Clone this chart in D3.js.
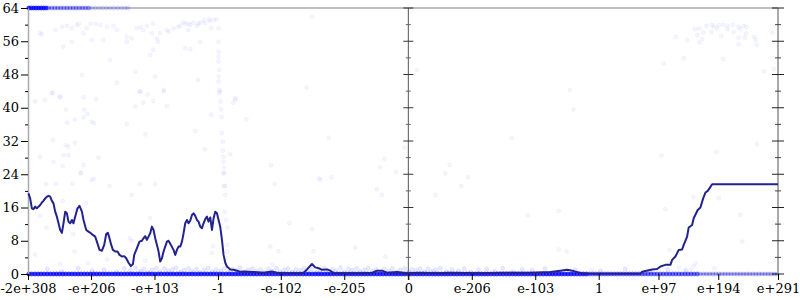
<!DOCTYPE html>
<html><head><meta charset="utf-8">
<script src="https://cdn.jsdelivr.net/npm/d3@7"></script>
<style>body{margin:0;background:#fff}svg{display:block}</style>
</head><body>
<svg id="c" width="800" height="300"></svg>
<script>
// x positions are in "decades" along the ordered-double axis (0 = the value 0)
const xTickVals = [-617.3, -515, -412, -309, -207, -104, 0, 103, 206, 309, 406, 503, 600];
const xTickLabels = ["-2e+308","-e+206","-e+103","-1","-e-102","-e-205","0","e-206","e-103","1","e+97","e+194","e+291"];
const yMajor = [0,8,16,24,32,40,48,56,64];
const yMinor = [4,12,20,28,36,44,52,60];

// average error line
const lineU = [-616.5,-613.8,-611.0,-608.4,-605.6,-602.9,-600.3,-597.5,-594.8,-592.2,-589.4,-586.6,-584.0,-581.3,-578.5,-575.9,-573.2,-570.4,-567.8,-565.0,-562.3,-559.7,-556.9,-554.2,-551.6,-548.8,-546.1,-543.5,-540.7,-537.0,-533.7,-529.8,-527.2,-522.8,-519.1,-515.2,-512.0,-508.2,-505.5,-501.2,-497.3,-493.6,-490.4,-487.6,-485.0,-482.2,-479.5,-475.7,-472.0,-468.8,-464.9,-461.1,-457.9,-454.1,-450.3,-447.0,-444.9,-440.5,-436.3,-432.4,-429.8,-427.0,-424.3,-421.7,-418.9,-416.2,-413.5,-410.8,-408.0,-405.4,-402.7,-399.9,-397.3,-394.6,-391.8,-389.2,-385.3,-381.1,-378.3,-375.6,-373.0,-370.2,-367.4,-364.8,-362.1,-359.3,-356.7,-354.0,-351.2,-348.6,-345.8,-343.1,-340.5,-337.7,-335.0,-332.4,-329.6,-326.9,-324.3,-321.5,-318.7,-316.1,-313.4,-310.6,-308.0,-305.3,-302.5,-299.9,-297.1,-294.4,-289.0,-283.7,-278.1,-272.8,-267.4,-259.3,-251.2,-234.9,-221.3,-213.2,-202.5,-175.4,-170.0,-164.5,-156.4,-151.0,-145.6,-140.1,-132.0,-126.6,-121.3,-77.9,-58.5,-50.8,-42.7,-34.6,-18.3,-2.1,19.5,46.6,68.2,116.9,149.4,198.1,230.6,246.8,257.7,268.4,284.6,311.7,344.2,376.7,379.5,395.7,403.8,409.2,417.3,425.4,428.2,433.5,438.9,444.4,447.0,452.5,455.1,460.6,463.2,469.7,474.1,478.5,482.2,486.0,493.1,600];
const lineV = [19.4,18.2,15.8,15.6,16.2,15.8,16.2,16.6,17.2,17.6,18.2,18.6,18.8,18.6,17.6,17.0,15.0,13.8,12.2,10.6,9.9,12.2,15.0,14.6,12.6,12.2,13.0,12.2,13.8,15.8,16.4,15.0,13.0,10.6,10.2,9.8,9.4,9.0,7.8,5.8,5.6,7.0,9.6,9.9,8.6,7.0,5.8,5.4,5.4,4.6,4.2,4.3,3.8,2.7,1.9,2.4,4.6,6.2,7.8,8.0,8.6,9.1,8.2,9.0,9.8,11.4,10.6,8.6,7.0,5.4,3.0,3.8,5.4,6.6,7.8,8.0,7.0,5.8,4.6,5.8,6.6,6.6,7.8,9.8,12.2,13.0,12.2,12.8,14.2,14.6,14.0,13.0,12.6,11.4,11.0,12.2,13.2,13.8,12.6,13.6,10.6,13.4,15.0,14.6,13.0,11.4,8.2,4.6,2.7,1.8,1.1,1.0,0.8,0.55,0.6,0.55,0.5,0.3,0.6,0.3,0.2,0.2,0.3,1.1,2.4,1.6,1.4,1.0,1.1,0.8,0.2,0.2,0.3,0.8,0.8,0.3,0.5,0.2,0.3,0.2,0.3,0.2,0.3,0.3,0.5,0.8,1.0,0.7,0.05,0.05,0.05,0.05,0.55,1.1,1.2,1.8,2.2,2.2,3.4,4.2,5.8,5.9,7.0,9.0,11.2,11.8,13.4,15.4,16.0,18.2,19.6,20.0,21.6,21.6];

// individual sampled points
const scatterU = [-598,-595,-573,-562,-554,-546,-538,-535,-527,-522,-516,-508,-500,-489,-479,-473,-457,-457,-449,-441,-435,-430,-424,-416,-414,-408,-403,-392,-389,-381,-370,-362,-354,-349,-343,-338,-332,-324,-316,-311,-308,-330,-322,-341,-357,-374,-365,-320,-357,
 -560,-546,-514,-495,-484,-419,-414,-406,-362,-354,-338,-443,-411,-473,-530,-579,-565,-435,-397,-341,
 -308,-308,-308,-308,-307,-308,-308,-307,-307,-281,-156,14,-165,
 434,452,465,472,469,479,477,472,484,493,496,501,504,511,518,518,527,528,536,539,544,549,548,546,536,536,561,564,565,591,508,492,414,447,511,577,593,
 -606,-590,-577,-566,-556,-554,-541,-527,-526,-527,-521,-514,-510,-507,-457,-443,-436,-430,-427,-423,-414,-397,-392,-346,-330,-320,-284,-281,-263,-289,
 -305,-305,-304,-303,-303,-301,-301,-300,-300,-299,-299,-299,
 -577,-556,-552,-541,-598,-576,-560,-552,-561,-527,-503,-531,-588,-572,-545,-514,-510,-485,-436,-411,
 -532,-449,-561,-523,-598,-541,-587,-544,-452,-606,-542,-565,-520,-489,
 -300,-298,-297,-298,-296,-294,-294,-294,-297,-317,-319,-427,-419,-449,
 -129,-223,-217,-145,-125,-39,-46,-20,-6,60,67,97,86,168,-51,-143,-193,-156,-224,-211,-154,-86,-43,-37,44,194,-221,
 244,244,257,417,463,504,539,542,599,497,463,439,458,298,262,268,411,500,566,424,466];
const scatterV = [57.9,57.7,58.7,59.5,59.7,59.1,59.9,60.2,57.9,59.1,60.2,60.2,59.9,59.5,59.7,58.7,57.1,55.9,56.7,59.1,59.4,58.7,59.7,57.9,60.2,56.7,57.9,58.7,58.3,59.1,59.7,60.2,59.9,60.5,59.7,60.5,61.1,61.3,61.1,61.3,59.1,60.4,60.9,60.2,60.2,59.4,60.6,59.2,58.7,
 54.7,55.9,56.3,56.3,51.5,52.7,53.9,55.9,54.3,54.1,55.9,48.7,47.5,46.0,47.9,43.5,42.7,43.9,44.3,46.7,
 55.9,53.5,52.3,51.1,49.1,47.5,46.3,44.3,43.5,42.3,61.9,49.1,44.9,
 57.1,56.3,58.9,59.1,57.5,58.1,56.5,55.7,59.7,59.9,59.5,59.1,59.9,59.9,58.9,59.7,59.9,58.3,59.5,58.9,59.7,59.4,57.9,56.9,56.9,55.3,57.0,56.3,55.1,58.1,57.3,58.2,50.7,51.9,51.7,48.8,49.3,
 41.5,41.9,43.6,42.5,39.5,36.4,37.2,42.5,39.5,37.7,38.5,36.6,36.3,42.0,36.1,40.3,43.9,41.2,33.6,43.2,41.6,44.0,40.4,34.4,30.0,38.3,41.2,42.0,37.2,28.8,
 43.9,41.5,39.6,37.8,33.9,31.8,29.7,28.2,27.0,25.6,24.4,21.2,
 32.2,31.0,30.6,31.6,28.2,27.0,28.6,28.6,26.0,26.2,28.0,24.4,21.6,21.7,21.8,22.6,22.9,21.2,21.6,21.6,
 24.2,19.0,17.6,17.0,14.0,15.2,11.2,9.6,8.6,4.7,5.4,2.4,2.6,3.5,
 24.2,21.2,19.0,15.0,13.0,11.2,7.0,5.4,3.8,6.7,5.1,3.2,13.5,8.0,
 32.8,26.2,21.7,23.0,23.3,27.7,25.6,24.5,30.4,24.2,26.2,23.3,21.2,32.8,20.4,22.6,12.3,10.8,6.6,5.5,5.5,6.4,19.0,4.2,19.0,14.2,2.2,
 15.2,5.9,5.4,15.6,18.5,18.2,14.2,7.8,12.3,1.4,1.8,1.6,1.0,1.0,44.3,39.6,28.5,29.3,31.2,5.8,2.6];

// low-error band of samples
const lowU = [-586,-562,-536,-513,-494,-474,-461,-451,-443,-435,-429,-422,-416,-409,-403,-396,-390,-383,-377,-370,-364,-357,-351,-344,-338,-331,-325,-318,-312,-305,-299,-292,-286,-279,-273,-266,-260,-253,-247,-240,-234,-227,-221,-214,-208,-201,-195,-188,-182,-175,-169,-162,-156,-149,-143,-136,-130,-123,-117,-110,-104,-97,-91,-84,-78,-71,-65,-58,-52,-45,-39,-32,-26,-19,-13,-6,0,6,13,19,26,32,39,45,52,62,71,81,91,101,114,127,140,153,169,185,201,222,244,271,312,352,393,421,450];
const lowV = [1.2,0.6,1.4,0.8,1.1,0.5,1.3,0.9,1.5,0.7,1.2,0.4,1.0,1.4,0.6,1.3,0.8,1.1,1.5,0.5,0.9,1.3,0.7,1.2,0.4,1.0,1.4,0.6,1.1,0.8,1.3,0.5,1.2,0.9,1.5,0.6,1.0,1.3,0.7,1.1,0.4,1.2,0.8,1.4,0.6,1.0,1.3,0.5,1.1,0.9,1.4,0.7,1.2,0.4,1.0,1.3,0.6,1.1,0.8,1.5,0.5,1.2,0.9,1.3,0.6,1.0,1.4,0.7,1.1,0.4,1.2,0.8,1.3,0.5,1.0,1.4,0.6,1.1,0.9,1.3,0.5,1.2,0.7,1.0,1.4,0.6,1.1,0.8,1.3,0.5,1.0,1.2,0.7,1.4,0.6,1.1,0.9,1.3,0.5,1.0,0.8,1.2,0.6,1.1,0.9];

// heavily repeated samples at 0 bits and 64 bits (position lists; repeats per position)
const zeroDenseU = [-616,-611,-606,-601,-596,-591,-586,-581,-576,-571,-566,-561,-556,-551,-546,-541,-536,-531,-526,-521,-516,-511,-506,-501,-496,-491,-486,-481,-476,-471,-466,-461,-456,-451,-446,-441,-436,-431,-426,-421,-416,-411,-406,-401,-396,-391,-386,-381,-376,-371,-366,-361,-356,-351,-346,-341,-336,-331,-326,-321,-316,-311,-306,-301,-296,-291,-286,-281,-276,-271,-266,-261,-256,-251,-246,-241,-236,-231,-226,-221,-216,-211,-206,-201,-196,-191,-186,-181,-176,-171,-166,-161,-156,-151,-146,-141,-136,-131,-126,-121,-116,-111,-106,-101,-96,-91,-86,-81,-76,-71,-66,-61,-56,-51,-46,-41,-36,-31,-26,-21,-16,-11,-6,-1,4,9,14,19,24,29,34,39,44,49,54,59,64,69,74,79,84,89,94,99,104,109,114,119,124,129,134,139,144,149,154,159,164,169,174,179,184,189,194,199,204,209,214,219,224,229,234,239,244,249,254,259,264,269,274,279,284,289];
const zeroMidU = [294,299,304,309,314,319,324,329,334,339,344,349,354,359,364,369,374,379,384,389,394,399,404,409,414,419,424,429,434,439,444,449,454,459,464,469];
const zeroLightU = [474,479,484,489,494,499,504,509,514,519,524,529,534,539,544,549,554,559,564,569,574,579,584,589,594,599];
const topDenseU = [-616,-612,-608,-604,-600,-596,-592,-588];
const topMidU = [-584,-579,-574,-569,-564,-559,-554,-549,-544,-539,-534,-529,-524,-519];
const topLightU = [-514,-508,-502,-496,-490,-484,-478,-472,-466,-460,-455];

const svg = d3.select('#c');
const x = d3.scaleLinear().domain([xTickVals[0], xTickVals[xTickVals.length-1]]).range([28, 778]);
const y = d3.scaleLinear().domain([0, 64]).range([274, 8]);
const FONT = 'DejaVu Serif';

// frame
const frame = svg.append('g');
frame.append('line').attr('x1', x.range()[0]).attr('x2', x.range()[1]).attr('y1', y(64)).attr('y2', y(64)).attr('stroke', '#aaa').attr('stroke-width', 1.5);
frame.append('line').attr('x1', x.range()[0]).attr('x2', x.range()[1]).attr('y1', y(0)).attr('y2', y(0)).attr('stroke', '#aaa').attr('stroke-width', 1.5);

// points
const a = 0.04;
const pts = [];
scatterU.forEach((u,i)=>{ if (i < scatterV.length) pts.push({u, v: scatterV[i], n: 1}); });
lowU.forEach((u,i)=>{ if (i < lowV.length) pts.push({u, v: lowV[i], n: 2}); });
zeroDenseU.forEach(u=>pts.push({u, v: 0, n: 30}));
zeroMidU.forEach(u=>pts.push({u, v: 0, n: 14}));
zeroLightU.forEach(u=>pts.push({u, v: 0, n: 5}));
topDenseU.forEach(u=>pts.push({u, v: 64, n: 30}));
topMidU.forEach(u=>pts.push({u, v: 64, n: 8}));
topLightU.forEach(u=>pts.push({u, v: 64, n: 3}));

svg.append('g').selectAll('circle').data(pts).join('circle')
  .attr('cx', d=>x(d.u)).attr('cy', d=>y(d.v)).attr('r', 2)
  .attr('fill', '#0000ff').attr('fill-opacity', d=>1-Math.pow(1-a, d.n))
  .attr('stroke', '#0000ff').attr('stroke-opacity', d=>1-Math.pow(1-0.05, d.n)).attr('stroke-width', 0.8);

// left axis
const gl = svg.append('g').attr('transform', `translate(${x.range()[0]},0)`);
gl.call(d3.axisLeft(y).tickValues(yMajor).tickSize(7).tickSizeOuter(0).tickPadding(2));
gl.append('g').call(d3.axisLeft(y).tickValues(yMinor).tickSize(3).tickSizeOuter(0).tickFormat(''))
  .select('.domain').remove();
gl.select('.domain').attr('stroke', '#aaa').attr('stroke-width', 1.5);
gl.selectAll('text').attr('font-family', FONT).attr('font-size', 13).attr('fill', '#000');

// right axis (ticks on both sides)
const xr = x.range()[1];
const gr = svg.append('g');
gr.append('line').attr('x1', xr).attr('x2', xr).attr('y1', y(64)).attr('y2', y(0)).attr('stroke', '#aaa').attr('stroke-width', 2);
gr.selectAll('.mj').data(yMajor).join('line').attr('x1', xr-6).attr('x2', xr+6).attr('y1', d=>y(d)).attr('y2', d=>y(d)).attr('stroke', '#222');
gr.selectAll('.mn').data(yMinor).join('line').attr('x1', xr-3).attr('x2', xr+3).attr('y1', d=>y(d)).attr('y2', d=>y(d)).attr('stroke', '#444');

// zero axis in the middle
const xm = x(0);
const gm = svg.append('g');
gm.append('line').attr('x1', xm).attr('x2', xm).attr('y1', y(64)).attr('y2', y(0)+6).attr('stroke', '#555').attr('stroke-width', 1);
gm.selectAll('.mj').data(yMajor).join('line').attr('x1', xm-5).attr('x2', xm+5).attr('y1', d=>y(d)).attr('y2', d=>y(d)).attr('stroke', '#333');
gm.selectAll('.mn').data(yMinor).join('line').attr('x1', xm-2.5).attr('x2', xm+2.5).attr('y1', d=>y(d)).attr('y2', d=>y(d)).attr('stroke', '#666');

// average line
svg.append('path')
  .datum(lineU.map((u,i)=>[u, lineV[i]]))
  .attr('fill', 'none').attr('stroke', '#23238e').attr('stroke-width', 2).attr('stroke-linejoin', 'round')
  .attr('d', d3.line().x(d=>x(d[0])).y(d=>y(d[1])));

// bottom axis
const gb = svg.append('g').attr('transform', `translate(0,${y(0)})`);
gb.call(d3.axisBottom(x).tickValues(xTickVals).tickFormat((d,i)=>xTickLabels[i]).tickSize(6).tickSizeOuter(0).tickPadding(4));
gb.select('.domain').remove();
gb.selectAll('text').attr('font-family', FONT).attr('font-size', 13).attr('fill', '#000');
</script>
</body></html>
